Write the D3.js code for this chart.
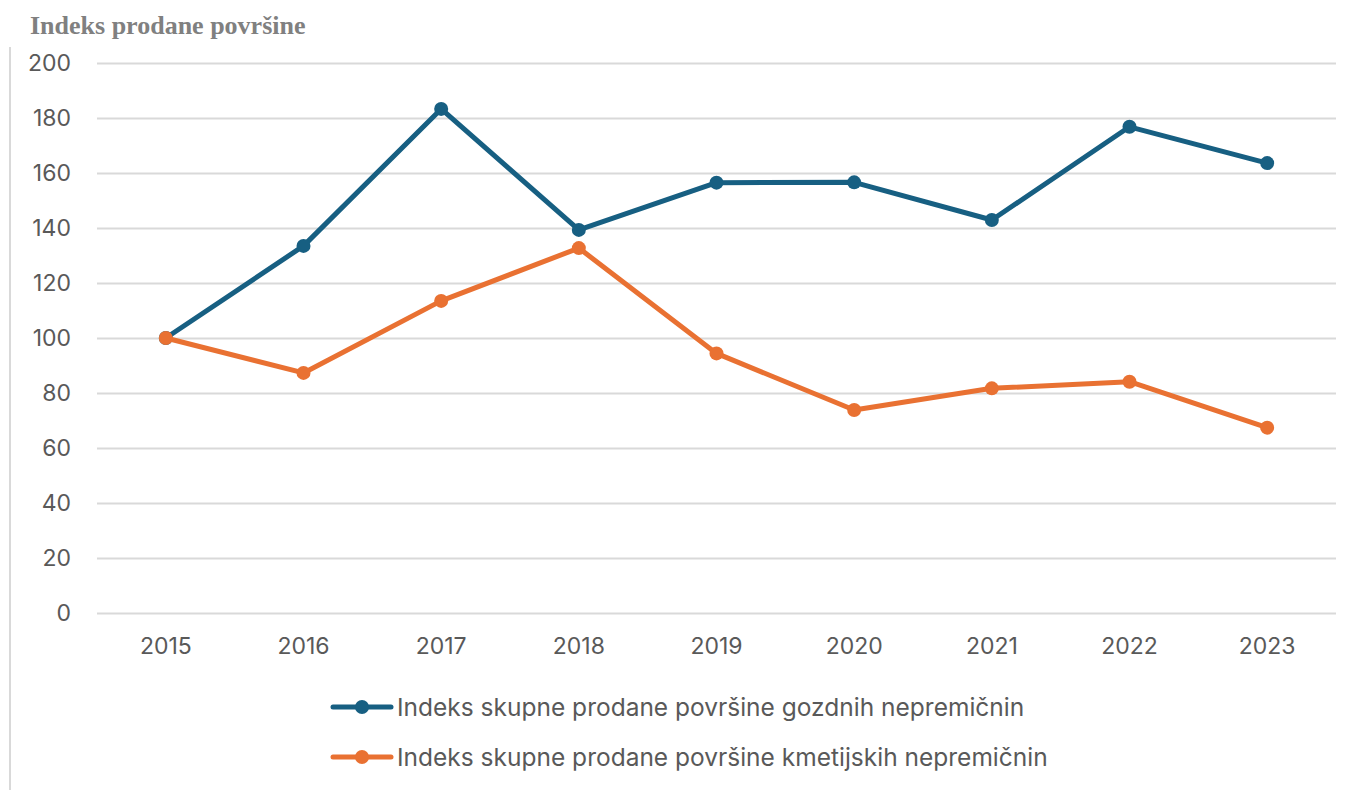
<!DOCTYPE html>
<html>
<head>
<meta charset="utf-8">
<script src="https://cdn.jsdelivr.net/npm/d3@7"></script>
<style>
  body { margin: 0; background: #fff; }
  #wrapper { width: 1359px; height: 790px; }
</style>
</head>
<body>
<div id="wrapper"></div>
<script>
// Data
const years = ["2015", "2016", "2017", "2018", "2019", "2020", "2021", "2022", "2023"];
const gozdne = [100, 133.5, 183.3, 139.3, 156.5, 156.6, 142.9, 176.8, 163.6];
const kmetijske = [100, 87.3, 113.5, 132.7, 94.4, 73.8, 81.7, 84.1, 67.4];
const yTicks = [0, 20, 40, 60, 80, 100, 120, 140, 160, 180, 200];
const seriesNames = [
    "Indeks skupne prodane površine gozdnih nepremičnin",
    "Indeks skupne prodane površine kmetijskih nepremičnin"
];
const title = "Indeks prodane površine";

function buildPlot() {
    const colors = ["#175f82", "#e97132"];
    const font = "Inter, 'Open Sans', sans-serif";

    let dimension = {
        width: 1359,
        height: 790,
        margin: { top: 63, right: 23, bottom: 177, left: 97 },
    };
    dimension.boundedWidth = dimension.width - dimension.margin.left - dimension.margin.right;
    dimension.boundedHeight = dimension.height - dimension.margin.top - dimension.margin.bottom;

    const wrapper = d3.select("#wrapper")
        .append("svg")
        .attr("width", dimension.width)
        .attr("height", dimension.height);

    // left frame edge
    wrapper.append("line")
        .attr("x1", 10).attr("x2", 10)
        .attr("y1", 47).attr("y2", dimension.height)
        .attr("stroke", "#d9d9d9")
        .attr("stroke-width", 2);

    wrapper.append("text")
        .attr("x", 30)
        .attr("y", 34)
        .attr("font-family", "'Liberation Serif', 'Times New Roman', serif")
        .attr("font-weight", "bold")
        .attr("font-size", 26)
        .attr("fill", "#808080")
        .text(title);

    const bounds = wrapper.append("g")
        .attr("transform", `translate(${dimension.margin.left},${dimension.margin.top})`);

    const xScaler = d3.scaleBand()
        .domain(years)
        .range([0, dimension.boundedWidth]);

    const yScaler = d3.scaleLinear()
        .domain([0, 200])
        .range([dimension.boundedHeight, 0]);

    // gridlines + y labels
    const yAxis = bounds.append("g")
        .call(d3.axisLeft(yScaler)
            .tickValues(yTicks)
            .tickSize(-dimension.boundedWidth)
            .tickPadding(26));
    yAxis.select(".domain").remove();
    yAxis.selectAll(".tick line")
        .attr("stroke", "#d9d9d9")
        .attr("stroke-width", 2);
    yAxis.selectAll(".tick text")
        .attr("font-family", font)
        .attr("font-size", 23)
        .attr("fill", "#595959");

    // x labels
    const xAxis = bounds.append("g")
        .attr("transform", `translate(0,${dimension.boundedHeight})`)
        .call(d3.axisBottom(xScaler).tickSize(0).tickPadding(25));
    xAxis.select(".domain").remove();
    xAxis.selectAll(".tick text")
        .attr("font-family", font)
        .attr("font-size", 23)
        .attr("fill", "#595959");

    const xPos = d => xScaler(d) + xScaler.bandwidth() / 2;

    [gozdne, kmetijske].forEach((values, i) => {
        const pts = years.map((y, j) => ({ year: y, value: values[j] }));
        const lineGenerator = d3.line()
            .x(d => xPos(d.year))
            .y(d => yScaler(d.value));

        bounds.append("path")
            .attr("fill", "none")
            .attr("stroke", colors[i])
            .attr("stroke-width", 5)
            .attr("stroke-linejoin", "round")
            .attr("stroke-linecap", "round")
            .attr("d", lineGenerator(pts));

        bounds.selectAll(null)
            .data(pts)
            .join("circle")
            .attr("cx", d => xPos(d.year))
            .attr("cy", d => yScaler(d.value))
            .attr("r", 7)
            .attr("fill", colors[i]);
    });

    // legend
    const legend = wrapper.append("g");
    seriesNames.forEach((name, i) => {
        const ly = 707 + i * 50;
        legend.append("line")
            .attr("x1", 333).attr("x2", 391)
            .attr("y1", ly).attr("y2", ly)
            .attr("stroke", colors[i])
            .attr("stroke-width", 5)
            .attr("stroke-linecap", "round");
        legend.append("circle")
            .attr("cx", 362).attr("cy", ly)
            .attr("r", 7)
            .attr("fill", colors[i]);
        legend.append("text")
            .attr("x", 397)
            .attr("y", ly)
            .attr("dy", "0.35em")
            .attr("font-family", font)
            .attr("font-size", 24.5)
            .attr("fill", "#595959")
            .text(name);
    });
}

buildPlot();
</script>
</body>
</html>
